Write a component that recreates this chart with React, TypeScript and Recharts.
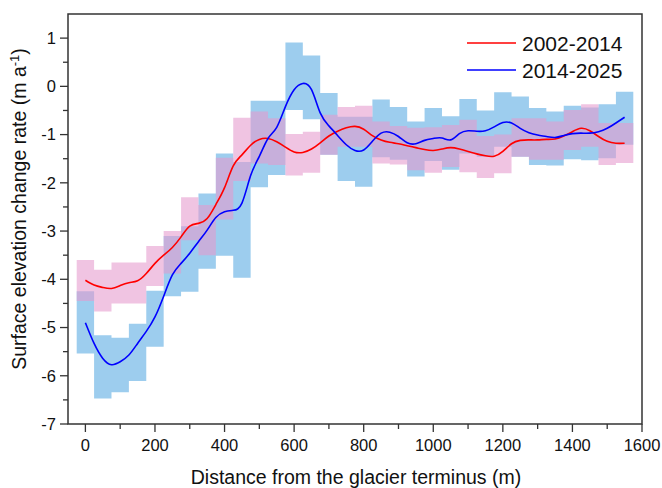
import React from 'react';
import {
  ComposedChart,
  Area,
  Line,
  XAxis,
  YAxis,
  ReferenceArea,
} from 'recharts';

// 50 m bins along the glacier (bin centres)
const binCenters = [
  0, 50, 100, 150, 200, 250, 300, 350, 400, 450, 500, 550, 600, 650, 700, 750,
  800, 850, 900, 950, 1000, 1050, 1100, 1150, 1200, 1250, 1300, 1350, 1400, 1450, 1500, 1550,
];

// 2002-2014 uncertainty range (pink)
const pinkHigh = [
  -3.6, -3.8, -3.65, -3.65, -3.31, -3.0, -2.3, -2.46, -1.48, -0.65, -0.52, -0.66, -0.99, -0.94, -0.59, -0.43,
  -0.4, -0.73, -0.82, -0.86, -0.85, -0.8, -0.69, -1.03, -1.0, -0.66, -0.66, -0.73, -0.49, -0.37, -0.76, -0.76,
];
const pinkLow = [
  -4.45, -4.67, -4.5, -4.5, -4.14, -3.88, -3.19, -3.5, -2.76, -1.96, -1.6, -1.63, -1.85, -1.79, -1.42, -1.25,
  -1.25, -1.6, -1.62, -1.74, -1.79, -1.67, -1.78, -1.9, -1.8, -1.46, -1.52, -1.52, -1.32, -1.25, -1.63, -1.59,
];

// 2014-2025 uncertainty range (blue)
const blueHigh = [
  -4.25, -5.16, -5.21, -4.92, -4.24, -3.1, -2.9, -2.22, -1.39, -1.57, -0.3, -0.3, 0.91, 0.64, -0.14, -0.63,
  -0.63, -0.27, -0.43, -0.73, -0.45, -0.62, -0.26, -0.5, -0.12, -0.21, -0.45, -0.52, -0.4, -0.44, -0.37, -0.11,
];
const blueLow = [
  -5.54, -6.47, -6.34, -6.11, -5.4, -4.35, -4.26, -3.78, -3.51, -3.97, -2.09, -1.84, -0.49, -0.68, -1.42, -1.96,
  -2.08, -1.47, -1.52, -1.87, -1.55, -1.73, -1.39, -1.46, -1.25, -1.46, -1.63, -1.64, -1.51, -1.53, -1.49, -1.21,
];

// smoothed profiles
const lineX = [
  0, 25, 50, 75, 100, 125, 150, 175, 200, 225, 250, 275, 300, 325, 350, 375, 400, 425, 450, 475, 500,
  525, 550, 575, 600, 625, 650, 675, 700, 725, 750, 775, 800, 825, 850, 875, 900, 925, 950, 975, 1000,
  1025, 1050, 1075, 1100, 1125, 1150, 1175, 1200, 1225, 1250, 1275, 1300, 1325, 1350, 1375, 1400, 1425,
  1450, 1475, 1500, 1525, 1550,
];
const rate2002 = [
  -4.02, -4.12, -4.17, -4.19, -4.13, -4.07, -4.03, -3.88, -3.67, -3.5, -3.34, -3.12, -2.9, -2.84, -2.74, -2.45, -2.1,
  -1.65, -1.42, -1.22, -1.1, -1.08, -1.15, -1.26, -1.36, -1.37, -1.3, -1.17, -1.03, -0.93, -0.86, -0.83, -0.89,
  -1.02, -1.11, -1.16, -1.19, -1.23, -1.27, -1.31, -1.33, -1.3, -1.27, -1.3, -1.35, -1.4, -1.44, -1.45, -1.35,
  -1.19, -1.12, -1.11, -1.11, -1.1, -1.09, -1.03, -0.94, -0.87, -0.92, -1.04, -1.14, -1.18, -1.18,
];
const rate2014 = [
  -4.9, -5.33, -5.64, -5.77, -5.71, -5.57, -5.33, -5.08, -4.78, -4.35, -3.91, -3.67, -3.46, -3.22, -2.98, -2.72,
  -2.6, -2.57, -2.42, -1.85, -1.45, -1.08, -0.85, -0.42, -0.07, 0.06, -0.07, -0.55, -0.82, -1.02, -1.21, -1.33,
  -1.32, -1.14, -0.97, -0.95, -1.04, -1.17, -1.19, -1.12, -1.08, -1.07, -1.11, -0.98, -0.92, -0.93, -0.92, -0.84,
  -0.75, -0.76, -0.87, -0.96, -1.01, -1.04, -1.06, -1.02, -0.98, -0.97, -0.97, -0.94, -0.87, -0.76, -0.64,
];

const xTicks = [0, 100, 200, 300, 400, 500, 600, 700, 800, 900, 1000, 1100, 1200, 1300, 1400, 1500, 1600];
const yTicks = [-7, -6.5, -6, -5.5, -5, -4.5, -4, -3.5, -3, -2.5, -2, -1.5, -1, -0.5, 0, 0.5, 1];

const legendItems = [
  { name: '2002-2014', color: '#ff0000' },
  { name: '2014-2025', color: '#0000ff' },
];

const FONT = '"Liberation Sans", Arial, sans-serif';
const BIN_HALF = 25;

// merge step bands (drawn from bin edges) and line samples into one table
function buildRows() {
  const rows = new Map<number, any>();
  const get = (x: number) => {
    if (!rows.has(x)) rows.set(x, { x });
    return rows.get(x);
  };
  binCenters.forEach((c, i) => {
    const r = get(c - BIN_HALF);
    r.pink = [pinkLow[i], pinkHigh[i]];
    r.blue = [blueLow[i], blueHigh[i]];
  });
  const last = binCenters.length - 1;
  const end = get(binCenters[last] + BIN_HALF);
  end.pink = [pinkLow[last], pinkHigh[last]];
  end.blue = [blueLow[last], blueHigh[last]];
  lineX.forEach((x, i) => {
    const r = get(x);
    r.red = rate2002[i];
    r.blueLine = rate2014[i];
  });
  return Array.from(rows.values()).sort((a, b) => a.x - b.x);
}

const rows = buildRows();

const XTick = (props: any) => {
  const { x, y, payload } = props;
  const major = payload.value % 200 === 0;
  return (
    <g>
      <line x1={x} x2={x} y1={y} y2={y + (major ? 8 : 5)} stroke="#333" strokeWidth={1.3} />
      {major && (
        <text x={x} y={y + 27} textAnchor="middle" fontSize={16.5} fill="#111" fontFamily={FONT}>
          {payload.value}
        </text>
      )}
    </g>
  );
};

const YTick = (props: any) => {
  const { x, y, payload } = props;
  const major = Number.isInteger(payload.value);
  return (
    <g>
      <line x1={x - (major ? 8 : 5)} x2={x} y1={y} y2={y} stroke="#333" strokeWidth={1.3} />
      {major && (
        <text x={x - 12} y={y} dy="0.35em" textAnchor="end" fontSize={16.5} fill="#111" fontFamily={FONT}>
          {payload.value}
        </text>
      )}
    </g>
  );
};

export default function App() {
  return (
    <div style={{ position: 'absolute', left: 0, top: 0, width: 662, height: 488, background: '#fff' }}>
      <ComposedChart
        width={662}
        height={488}
        data={rows}
        margin={{ top: 14, right: 20, bottom: 0, left: 0 }}
      >
        <XAxis
          type="number"
          dataKey="x"
          domain={[-50, 1600]}
          ticks={xTicks}
          allowDataOverflow
          height={64}
          axisLine={false}
          tickLine={false}
          tickSize={0}
          tickMargin={0}
          tick={<XTick />}
          interval={0}
        />
        <YAxis
          type="number"
          domain={[-7, 1.5]}
          ticks={yTicks}
          allowDataOverflow
          width={68}
          axisLine={false}
          tickLine={false}
          tickSize={0}
          tickMargin={0}
          tick={<YTick />}
          interval={0}
        />
        <Area
          dataKey="blue"
          type="stepAfter"
          stroke="none"
          fill="#9dcdee"
          fillOpacity={1}
          connectNulls
          isAnimationActive={false}
        />
        <Area
          dataKey="pink"
          type="stepAfter"
          stroke="none"
          fill="#e599cd"
          fillOpacity={0.58}
          connectNulls
          isAnimationActive={false}
        />
        <Line
          dataKey="red"
          type="natural"
          stroke="#ff0000"
          strokeWidth={1.6}
          dot={false}
          connectNulls
          isAnimationActive={false}
        />
        <Line
          dataKey="blueLine"
          type="natural"
          stroke="#0000ff"
          strokeWidth={1.6}
          dot={false}
          connectNulls
          isAnimationActive={false}
        />
        <ReferenceArea x1={-50} x2={1600} y1={-7} y2={1.5} fill="none" stroke="#333" strokeWidth={1.5} />
      </ComposedChart>

      <svg
        width={662}
        height={488}
        style={{ position: 'absolute', left: 0, top: 0, pointerEvents: 'none' }}
        fontFamily={FONT}
      >
        <text
          transform="translate(26, 209) rotate(-90)"
          textAnchor="middle"
          fontSize={19.5}
          fill="#111"
        >
          Surface elevation change rate (m a
          <tspan dy={-7} fontSize={13}>-1</tspan>
          <tspan dy={7}>)</tspan>
        </text>
        <text x={356} y={484} textAnchor="middle" fontSize={19.5} fill="#111">
          Distance from the glacier terminus (m)
        </text>
        {legendItems.map((item, i) => (
          <g key={item.name}>
            <line x1={467} x2={516} y1={43 + i * 27} y2={43 + i * 27} stroke={item.color} strokeWidth={1.6} />
            <text x={522} y={43 + i * 27} dy="0.36em" fontSize={21} fill="#111">
              {item.name}
            </text>
          </g>
        ))}
      </svg>
    </div>
  );
}
